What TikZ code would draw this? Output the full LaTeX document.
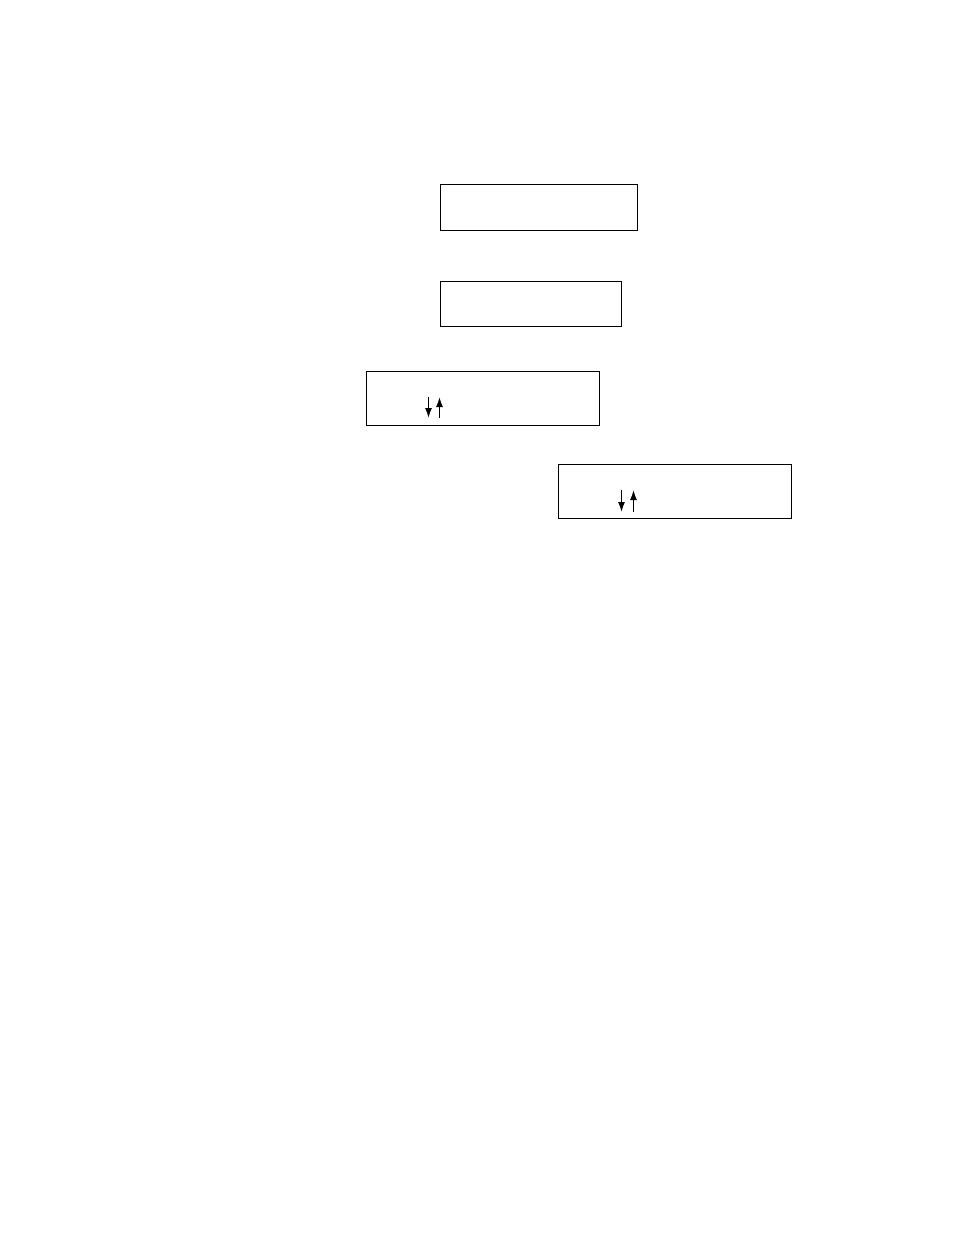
\documentclass[tikz,border=0pt]{standalone}
\usepackage{tikz}
\usetikzlibrary{arrows.meta, positioning}
\tikzset{
    box/.style={
        rectangle,
        draw=black,
        line width=1pt,
        inner sep=0pt,
        minimum width=233pt,
        minimum height=54pt,
        fill=white
    },
    spin/.style={
        draw=black,
        line width=1.4pt,
        -{Latex[length=10pt,width=7pt]}
    }
}
\begin{document}
\begin{tikzpicture}[x=1pt, y=-1pt]
\useasboundingbox (0,0) rectangle (954,1235);

% Levels
\node[box, minimum width=197pt, minimum height=46pt] (top) at (538.5,207) {};
\node[box, minimum width=181pt, minimum height=45pt] (upper) at (530.5,303.5) {};
\node[box] (lower) at (482.5,398) {};
\node[box] (right) at (674.5,491) {};

% Spin pair, lower level
\coordinate (la) at (428.5,397);
\coordinate (lb) at (428.5,418);
\coordinate (lc) at (439.5,418);
\coordinate (ld) at (439.5,397);
\draw[spin] (la) -- (lb);
\draw[spin] (lc) -- (ld);

% Spin pair, right level
\coordinate (ra) at (621.5,490);
\coordinate (rb) at (621.5,512);
\coordinate (rc) at (633.5,512);
\coordinate (rd) at (633.5,490);
\draw[spin] (ra) -- (rb);
\draw[spin] (rc) -- (rd);

\end{tikzpicture}
\end{document}
